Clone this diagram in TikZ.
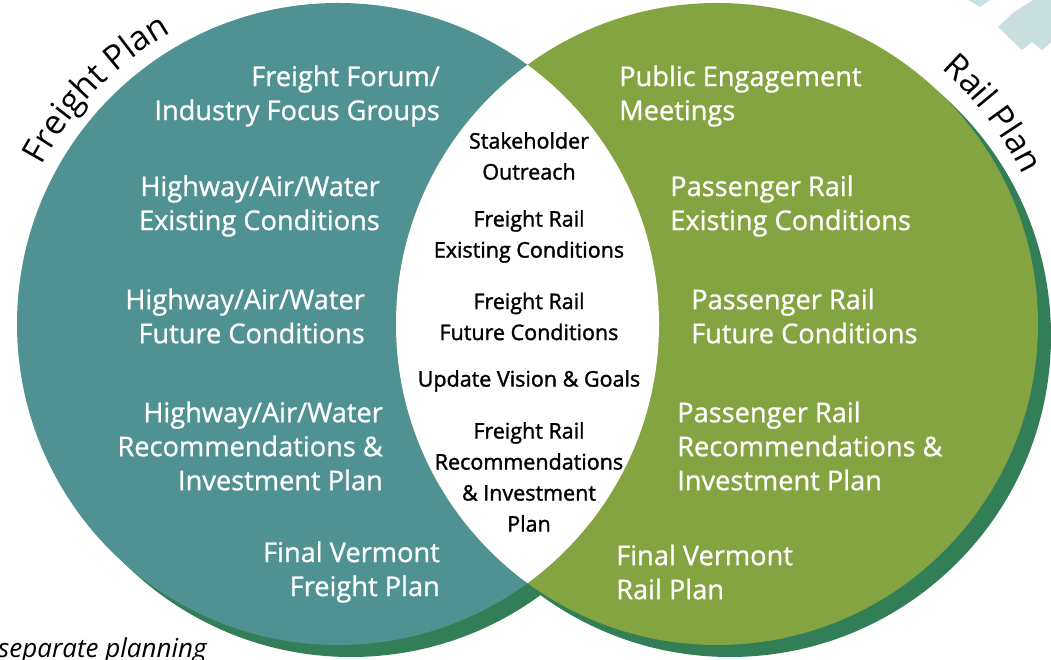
\documentclass[tikz,border=0pt]{standalone}
\usepackage{fontspec}
\setmainfont{Open Sans}
\newfontfamily\itemfont{Open Sans}[FakeBold=0.9]
\newfontfamily\lensfont{Open Sans}[FakeBold=1.5]
\usetikzlibrary{decorations.text}
\definecolor{freightteal}{HTML}{509292}
\definecolor{railgreen}{HTML}{84A442}
\definecolor{shadowgreen}{HTML}{317E57}
\definecolor{logoteal}{HTML}{C9DFDF}
\tikzset{
  every node/.style={inner sep=0pt},
  freight item/.style={anchor=east, align=right, text=white, font=\itemfont\fontsize{27.2}{34}\selectfont},
  rail item/.style={anchor=west, align=left, text=white, font=\itemfont\fontsize{27.2}{34}\selectfont},
  shared item/.style={align=center, font=\lensfont\fontsize{21.5}{31}\selectfont},
  plan title/.style={decorate, decoration={text along path, text align=center}},
}

\begin{document}
\begin{tikzpicture}[x=1pt, y=1pt]
  \useasboundingbox (0,0) rectangle (1051,660);
  \clip (0,0) rectangle (1051,660);

  % logo corner
  \fill[logoteal] (998,633) -- (1013,647) -- (1033,660) -- (1051,660) -- (1051,618)
                  -- (1042,610) -- (1032,618) -- (1022,610) -- cycle;
  \fill[logoteal] (968,660) -- (980,653) -- (990,660) -- cycle;

  \fill[shadowgreen] (351,324) circle[radius=321];
  \fill[shadowgreen] (730,324) circle[radius=321];
  \fill[freightteal] (338,336) circle[radius=321];
  \fill[railgreen]   (717,336) circle[radius=321];
  \begin{scope}
    \clip (338,336) circle[radius=321];
    \fill[white] (717,336) circle[radius=321];
  \end{scope}

  \path[plan title, decoration={text={|\fontsize{34}{34}\selectfont|Freight Plan}}]
        (338,336) ++(162:336) arc[start angle=162, end angle=109.6, radius=336];
  \path[plan title, decoration={text={|\fontsize{34}{34}\selectfont|Rail Plan}}]
        (717,336) ++(64:340) arc[start angle=64, end angle=10.6, radius=340];

  \node[freight item] (forum)      at (440,564) {Freight Forum/\\Industry Focus Groups};
  \node[freight item] (hwyexist)   at (380,454) {Highway/Air/Water\\Existing Conditions};
  \node[freight item] (hwyfuture)  at (365,344) {Highway/Air/Water\\Future Conditions};
  \node[freight item] (hwyrecs)    at (383,214) {Highway/Air/Water\\Recommendations \&\\Investment Plan};
  \node[freight item] (finalfrt)   at (440,88)  {Final Vermont\\Freight Plan};

  \node[rail item] (public)     at (619,564) {Public Engagement\\Meetings};
  \node[rail item] (paxexist)   at (670,454) {Passenger Rail\\Existing Conditions};
  \node[rail item] (paxfuture)  at (691,344) {Passenger Rail\\Future Conditions};
  \node[rail item] (paxrecs)    at (677,214) {Passenger Rail\\Recommendations \&\\Investment Plan};
  \node[rail item] (finalrail)  at (616,88)  {Final Vermont\\Rail Plan};

  \node[shared item] (outreach)  at (529,504)   {Stakeholder\\Outreach};
  \node[shared item] (frexist)   at (529,423.5) {Freight Rail\\Existing Conditions};
  \node[shared item] (frfuture)  at (529,343.5) {Freight Rail\\Future Conditions};
  \node[shared item] (vision)    at (529,279)   {Update Vision \& Goals};
  \node[shared item] (frrecs)    at (529,183)   {Freight Rail\\Recommendations\\\& Investment\\Plan};

  \node[anchor=base west, font=\itshape\fontsize{26}{26}\selectfont] (note) at (-2,2) {separate planning};
\end{tikzpicture}
\end{document}
